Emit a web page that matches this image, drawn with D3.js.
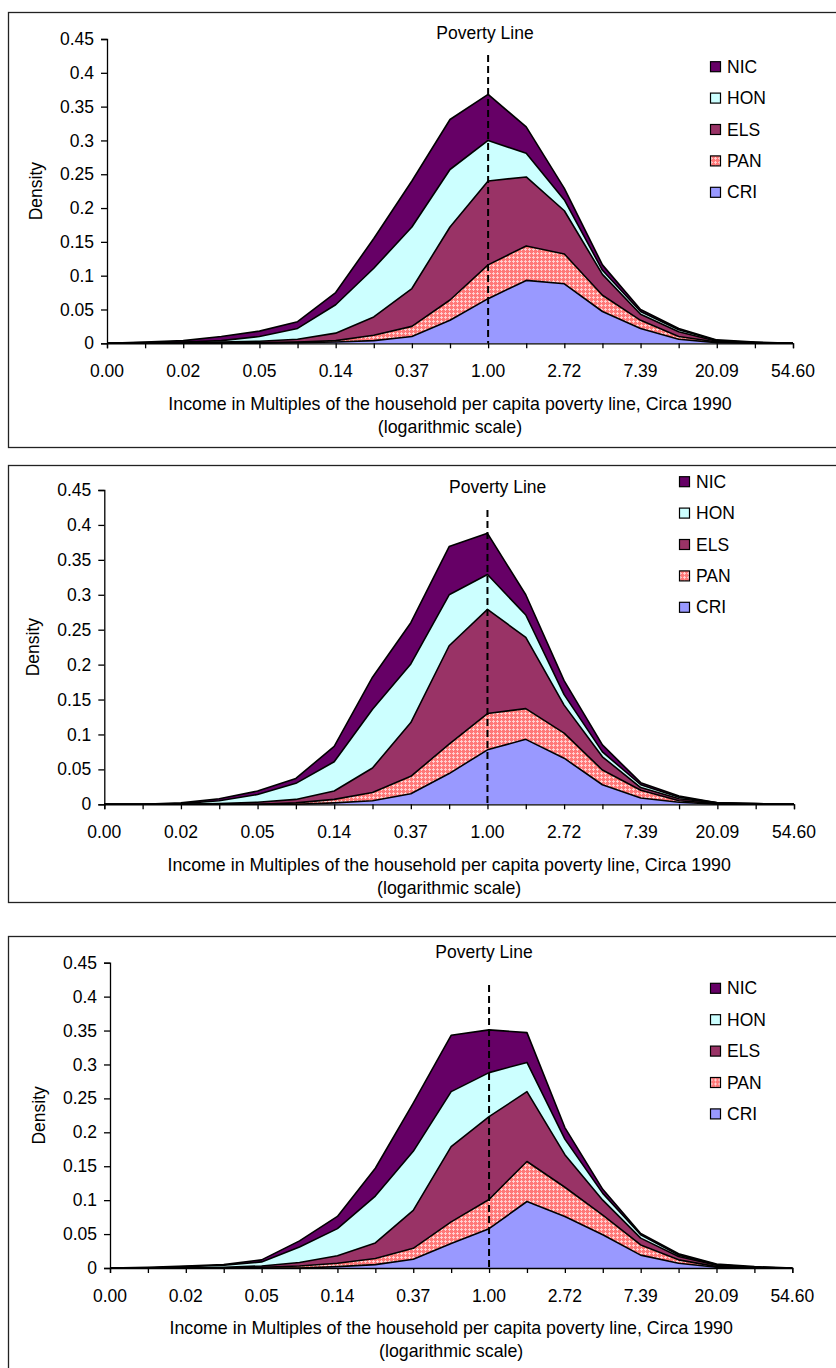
<!DOCTYPE html>
<html lang="en">
<head>
<meta charset="UTF-8">
<title>Income density</title>
<script src="https://cdn.jsdelivr.net/npm/d3@7"></script>
<style>
  body { margin: 0; background: #fff; }
  text { font-family: "Liberation Sans", Arial, sans-serif; fill: #000; }
</style>
</head>
<body>
<div id="chart"></div>
<script>
// log of income multiple, one category per half unit
var logIncome = [-5, -4.5, -4, -3.5, -3, -2.5, -2, -1.5, -1, -0.5, 0, 0.5, 1, 1.5, 2, 2.5, 3, 3.5, 4];
var xTickValues = [-5, -4, -3, -2, -1, 0, 1, 2, 3, 4];
var xTickLabels = ["0.00", "0.02", "0.05", "0.14", "0.37", "1.00", "2.72", "7.39", "20.09", "54.60"];
var yTicks = [0, 0.05, 0.1, 0.15, 0.2, 0.25, 0.3, 0.35, 0.4, 0.45];
var seriesNames = ["CRI", "PAN", "ELS", "HON", "NIC"];

// panel 1
var cri1 = [0,0,0,0,0,0.001,0.002,0.004,0.010,0.034,0.066,0.093,0.088,0.047,0.022,0.006,0.001,0,0];
var pan1 = [0,0,0,0.001,0.001,0.001,0.002,0.008,0.015,0.030,0.050,0.051,0.044,0.024,0.012,0.004,0.001,0.001,0];
var els1 = [0,0,0.001,0.001,0.002,0.004,0.011,0.027,0.056,0.108,0.124,0.102,0.064,0.031,0.009,0.007,0.001,0,0];
var hon1 = [0,0.001,0.001,0.002,0.007,0.016,0.042,0.072,0.091,0.085,0.060,0.035,0.016,0.006,0.004,0.003,0.001,0,0];
var nic1 = [0,0.001,0.002,0.006,0.008,0.010,0.018,0.044,0.068,0.074,0.068,0.039,0.017,0.008,0.003,0.002,0.001,0.001,0];

// panel 2
var cri2 = [0,0,0,0,0,0,0.002,0.005,0.015,0.044,0.078,0.093,0.066,0.028,0.009,0.003,0,0,0];
var pan2 = [0,0,0,0,0,0.002,0.005,0.012,0.025,0.042,0.052,0.044,0.036,0.021,0.011,0.002,0.001,0,0];
var els2 = [0,0,0,0.001,0.003,0.005,0.012,0.035,0.077,0.141,0.149,0.102,0.040,0.019,0.004,0.003,0.001,0,0];
var hon2 = [0,0,0.001,0.004,0.011,0.023,0.042,0.084,0.084,0.073,0.050,0.032,0.015,0.007,0.004,0.002,0,0.001,0];
var nic2 = [0,0,0.001,0.003,0.005,0.007,0.022,0.046,0.059,0.069,0.059,0.029,0.020,0.010,0.003,0.002,0,0,0];

// panel 3
var cri3 = [0,0,0,0,0,0,0.002,0.005,0.013,0.036,0.058,0.098,0.076,0.049,0.019,0.007,0.001,0,0];
var pan3 = [0,0,0,0,0.001,0.003,0.005,0.009,0.016,0.032,0.043,0.059,0.043,0.029,0.015,0.005,0.001,0,0];
var els3 = [0,0,0,0.001,0.002,0.005,0.011,0.023,0.056,0.111,0.122,0.103,0.048,0.022,0.010,0.005,0.002,0.001,0];
var hon3 = [0,0,0.002,0.003,0.006,0.023,0.040,0.069,0.087,0.081,0.065,0.043,0.023,0.010,0.005,0.002,0.001,0,0];
var nic3 = [0,0.001,0.001,0.001,0.003,0.009,0.018,0.041,0.071,0.083,0.063,0.044,0.017,0.006,0.002,0.002,0.001,0.001,0];

var colors = { CRI: "#9999ff", PAN: "url(#panFill)", ELS: "#993366", HON: "#ccffff", NIC: "#660066" };

// where each panel sits on the page
var panels = [
  { top: 12, bottom: 447, left: 107, right: 793, yTop: 39, yBot: 343.3, legX: 710, legY: 66.7, povX: 485, povY: 33, dashTop: 55,
    series: [cri1, pan1, els1, hon1, nic1] },
  { top: 465, bottom: 902, left: 104.3, right: 794, yTop: 490, yBot: 804.3, legX: 679, legY: 481.7, povX: 497.7, povY: 486.7, dashTop: 510,
    series: [cri2, pan2, els2, hon2, nic2] },
  { top: 936, bottom: 1400, left: 110, right: 792.3, yTop: 962.7, yBot: 1268, legX: 710, legY: 988.3, povX: 484, povY: 951.7, dashTop: 985,
    series: [cri3, pan3, els3, hon3, nic3] }
];

var svg = d3.select("#chart").append("svg")
  .attr("width", 836)
  .attr("height", 1368);

// pink pattern with light little crosses for PAN
var pat = svg.append("defs").append("pattern")
  .attr("id", "panFill")
  .attr("patternUnits", "userSpaceOnUse")
  .attr("width", 4).attr("height", 4);
pat.append("rect").attr("width", 4).attr("height", 4).attr("fill", "#ff7878");
[[1,0],[0,1],[1,1],[2,1],[1,2]].forEach(function(c) {
  pat.append("rect").attr("x", c[0]).attr("y", c[1]).attr("width", 1).attr("height", 1).attr("fill", "#ffd0d0");
});

var FS = 17.5;

panels.forEach(function(p) {
  var g = svg.append("g");

  // frame
  g.append("rect")
    .attr("x", 8.5).attr("y", p.top + 0.5)
    .attr("width", 840).attr("height", p.bottom - p.top)
    .attr("fill", "none").attr("stroke", "#222").attr("stroke-width", 1.3);

  var x = d3.scaleLinear().domain([-5, 4]).range([p.left, p.right]);
  var y = d3.scaleLinear().domain([0, 0.45]).range([p.yBot, p.yTop]);

  var rows = logIncome.map(function(v, i) {
    var r = { li: v };
    seriesNames.forEach(function(n, k) { r[n] = p.series[k][i]; });
    return r;
  });
  var stacked = d3.stack().keys(seriesNames)(rows);

  var area = d3.area()
    .x(function(d) { return x(d.data.li); })
    .y0(function(d) { return y(d[0]); })
    .y1(function(d) { return y(d[1]); });
  var line = d3.line()
    .x(function(d) { return x(d.data.li); })
    .y(function(d) { return y(d[1]); });

  g.selectAll(".layer").data(stacked).enter().append("path")
    .attr("class", "layer")
    .attr("d", area)
    .attr("fill", function(d) { return colors[d.key]; });

  g.selectAll(".edge").data(stacked).enter().append("path")
    .attr("class", "edge")
    .attr("d", line)
    .attr("fill", "none")
    .attr("stroke", "#000")
    .attr("stroke-width", 1.6)
    .attr("stroke-linejoin", "round");

  // axes
  var yAxis = g.append("g")
    .attr("transform", "translate(" + p.left + ",0)")
    .call(d3.axisLeft(y).tickValues(yTicks).tickSize(6).tickPadding(7)
      .tickFormat(function(d) { return String(+d.toFixed(2)); }));
  var xAxis = g.append("g")
    .attr("transform", "translate(0," + p.yBot + ")")
    .call(d3.axisBottom(x).tickValues(logIncome).tickSize(5).tickPadding(0)
      .tickFormat(function() { return ""; }));
  [yAxis, xAxis].forEach(function(a) {
    a.select(".domain").attr("stroke", "#000").attr("stroke-width", 1.3);
    a.selectAll(".tick line").attr("stroke", "#000").attr("stroke-width", 1.3);
    a.selectAll("text").style("font-size", FS + "px").attr("font-family", null);
  });

  g.selectAll(".xlab").data(xTickValues).enter().append("text")
    .attr("class", "xlab")
    .attr("x", function(d) { return x(d); })
    .attr("y", p.yBot + 28)
    .attr("dy", "0.35em")
    .attr("text-anchor", "middle")
    .style("font-size", FS + "px")
    .text(function(d, i) { return xTickLabels[i]; });

  // poverty line
  g.append("line")
    .attr("x1", x(0)).attr("x2", x(0))
    .attr("y1", p.dashTop).attr("y2", p.yBot)
    .attr("stroke", "#000").attr("stroke-width", 2)
    .attr("stroke-dasharray", "7,4");
  g.append("text")
    .attr("x", p.povX).attr("y", p.povY).attr("dy", "0.35em")
    .attr("text-anchor", "middle")
    .style("font-size", FS + "px")
    .text("Poverty Line");

  // axis titles
  var cx = (p.left + p.right) / 2;
  g.append("text")
    .attr("x", cx).attr("y", p.yBot + 60).attr("dy", "0.35em")
    .attr("text-anchor", "middle").style("font-size", "17.8px")
    .text("Income in Multiples of the household per capita poverty line, Circa 1990");
  g.append("text")
    .attr("x", cx).attr("y", p.yBot + 83).attr("dy", "0.35em")
    .attr("text-anchor", "middle").style("font-size", "17.8px")
    .text("(logarithmic scale)");
  g.append("text")
    .attr("transform", "translate(" + (p.left - 71) + "," + ((p.yTop + p.yBot) / 2) + ") rotate(-90)")
    .attr("dy", "0.35em")
    .attr("text-anchor", "middle").style("font-size", FS + "px")
    .text("Density");

  // legend, top series first
  var legend = g.selectAll(".leg").data(seriesNames.slice().reverse()).enter().append("g")
    .attr("class", "leg")
    .attr("transform", function(d, i) { return "translate(" + p.legX + "," + (p.legY + i * 31.4) + ")"; });
  legend.append("rect")
    .attr("x", 0.5).attr("y", -5)
    .attr("width", 10).attr("height", 10)
    .attr("fill", function(d) { return colors[d]; })
    .attr("stroke", "#000").attr("stroke-width", 1.2);
  legend.append("text")
    .attr("x", 17).attr("dy", "0.35em")
    .style("font-size", FS + "px")
    .text(function(d) { return d; });
});
</script>
</body>
</html>
